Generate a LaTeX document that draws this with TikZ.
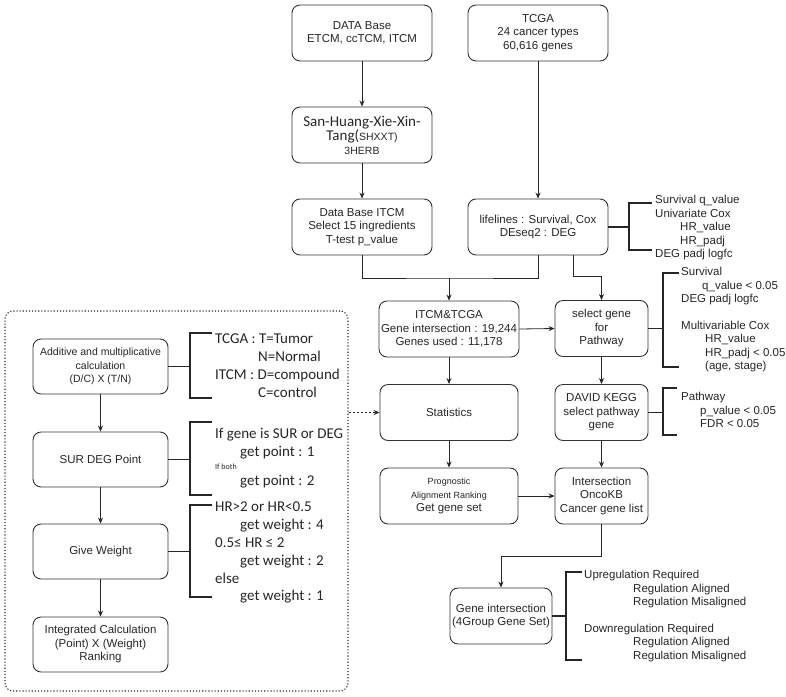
\documentclass[tikz,border=0pt]{standalone}
\usepackage{fontspec}
\setmainfont{Liberation Sans}
\newfontfamily\calib{Carlito}
\usetikzlibrary{arrows.meta}

\begin{document}
\begin{tikzpicture}[
    x=1pt, y=-1pt,
    >={Stealth[length=6pt,width=5pt]},
    every node/.style={font=\fontsize{11.5}{13.5}\selectfont, text=black!85},
    box/.style={draw=black!80, rounded corners=8pt, line width=0.9pt, align=center,
        minimum width=140pt, minimum height=56pt, inner sep=2pt},
    narrow/.style={box, minimum width=93pt},
    mid/.style={box, minimum width=138pt},
    lbox/.style={box, minimum width=135pt, minimum height=55pt},
    flow/.style={->, line width=0.8pt, draw=black!85},
    brk/.style={line width=1.6pt, draw=black!85},
    note/.style={anchor=north west, align=left, inner sep=0pt},
    cal/.style={note, font=\calib\fontsize{15}{17.8}\selectfont}
]
\useasboundingbox (0,0) rectangle (786,696);

% Top row
\node[box] (db)   at (362,33)  {DATA Base\\ETCM, ccTCM, ITCM};
\node[box] (tcga) at (538,33)  {TCGA\\24 cancer types\\60,616 genes};
\node[box] (shx)  at (362,135) {{\calib\fontsize{15}{18}\selectfont San-Huang-Xie-Xin-}\\
    {\calib\fontsize{15}{18}\selectfont Tang(}{\fontsize{10.5}{12}\selectfont SHXXT)}\\
    {\fontsize{10.5}{12}\selectfont 3HERB}};
\node[box] (itcm) at (362,227) {Data Base ITCM\\Select 15 ingredients\\T-test p\_value};
\node[box] (life) at (538,227) {lifelines : Survival, Cox\\DEseq2 : DEG};

% Middle column
\node[mid]    (it)    at (449,329) {ITCM\&TCGA\\Gene intersection : 19,244\\Genes used : 11,178};
\node[narrow] (sel)   at (601.5,328.5) {select gene\\for\\Pathway};
\node[mid]    (stat)  at (449,412.5) {Statistics};
\node[narrow] (david) at (601.5,412.5) {DAVID KEGG\\select pathway\\gene};
\node[mid]    (prog)  at (449,496) {{\fontsize{9}{12}\selectfont Prognostic}\\
    {\fontsize{9}{12}\selectfont Alignment Ranking}\\Get gene set};
\node[narrow] (inter) at (601.5,496) {Intersection\\OncoKB\\Cancer gene list};
\node[box, minimum width=102pt] (gis) at (501,616) {Gene intersection\\(4Group Gene Set)};

% Scoring steps
\node[draw=black!85, dotted, line width=1.1pt, rounded corners=8pt,
    minimum width=343pt, minimum height=380pt] (grp) at (176.5,501) {};
\node[lbox] (add)   at (100.5,366.5) {{\fontsize{10.5}{13}\selectfont Additive and multiplicative}\\
    {\fontsize{10.5}{13}\selectfont calculation}\\{\fontsize{10.5}{13}\selectfont (D/C) X (T/N)}};
\node[lbox] (sur)   at (100.5,459.5) {SUR DEG Point};
\node[lbox] (gw)    at (100.5,551.5) {Give Weight};
\node[lbox] (integ) at (100.5,644.5) {Integrated Calculation\\(Point) X (Weight)\\Ranking};

% Arrows
\draw[flow] (db) -- (shx);
\draw[flow] (shx) -- (itcm);
\draw[flow] (tcga) -- (life);
\coordinate (jn) at (449,278);
\draw[line width=0.8pt, draw=black!85] (itcm.south) |- (jn) -| (life.south);
\draw[flow] (jn) -- (it.north);
\draw[flow] ([xshift=35pt]life.south) -- ++(0,21) -| (sel.north);
\draw[flow] (it.east) -- (sel.west);
\draw[flow] (it) -- (stat);
\draw[flow] (sel) -- (david);
\draw[flow] (stat) -- (prog);
\draw[flow] (david) -- (inter);
\draw[flow] (prog) -- (inter);
\draw[flow] (inter.south) -- ++(0,32) -| (gis.north);
\draw[flow] (add) -- (sur);
\draw[flow] (sur) -- (gw);
\draw[flow] (gw) -- (integ);
\draw[flow, dash pattern=on 2pt off 2pt] (stat.west -| grp.east) -- (stat.west);

% Brackets
\draw[brk] (life.east) -- ++(21,0);
\draw[brk] (652,203) -| (629,250) -- (652,250);
\draw[brk] (sel.east) -- ++(15,0);
\draw[brk] (679,273) -| (663,367) -- (679,367);
\draw[brk] (david.east) -- ++(15,0);
\draw[brk] (677,388) -| (663,435) -- (677,435);
\draw[brk] (gis.east) -- ++(14,0);
\draw[brk] (582,572) -| (566,660) -- (582,660);
\draw[brk] (add.east) -- ++(22,0);
\draw[brk] (212,333) -| (190,398) -- (212,398);
\draw[brk] (sur.east) -- ++(22,0);
\draw[brk] (212,422) -| (190,495) -- (212,495);
\draw[brk] (gw.east) -- ++(22,0);
\draw[brk] (212,505) -| (190,597) -- (212,597);

% Bracket texts
\node[note] (lnote) at (655,195) {Survival q\_value\\Univariate Cox\\
    \hspace*{25pt}HR\_value\\\hspace*{25pt}HR\_padj\\DEG padj logfc};
\node[note] (snote) at (681,267) {Survival\\\hspace*{21pt}q\_value < 0.05\\DEG padj logfc\\[13pt]
    Multivariable Cox\\\hspace*{24pt}HR\_value\\\hspace*{24pt}HR\_padj < 0.05\\\hspace*{24pt}(age, stage)};
\node[note] (pnote) at (681,392) {Pathway\\\hspace*{19pt}p\_value < 0.05\\\hspace*{19pt}FDR < 0.05};
\node[note] (gnote) at (584,570) {Upregulation Required\\\hspace*{49pt}Regulation Aligned\\
    \hspace*{49pt}Regulation Misaligned\\[13pt]Downregulation Required\\
    \hspace*{49pt}Regulation Aligned\\\hspace*{49pt}Regulation Misaligned};
\node[cal] (tnote) at (215,334) {TCGA : T=Tumor\\\hspace*{43pt}N=Normal\\
    ITCM : D=compound\\\hspace*{43pt}C=control};
\node[cal] (pnt) at (215,428) {If gene is SUR or DEG\\\hspace*{25pt}get point : 1\\[-5pt]
    {\fontsize{8}{10}\selectfont If both}\\[-1pt]\hspace*{25pt}get point : 2};
\node[cal] (wnote) at (215,502) {HR>2 or HR<0.5\\\hspace*{25pt}get weight : 4\\
    0.5≤ HR ≤ 2\\\hspace*{25pt}get weight : 2\\else\\\hspace*{25pt}get weight : 1};

\end{tikzpicture}
\end{document}
